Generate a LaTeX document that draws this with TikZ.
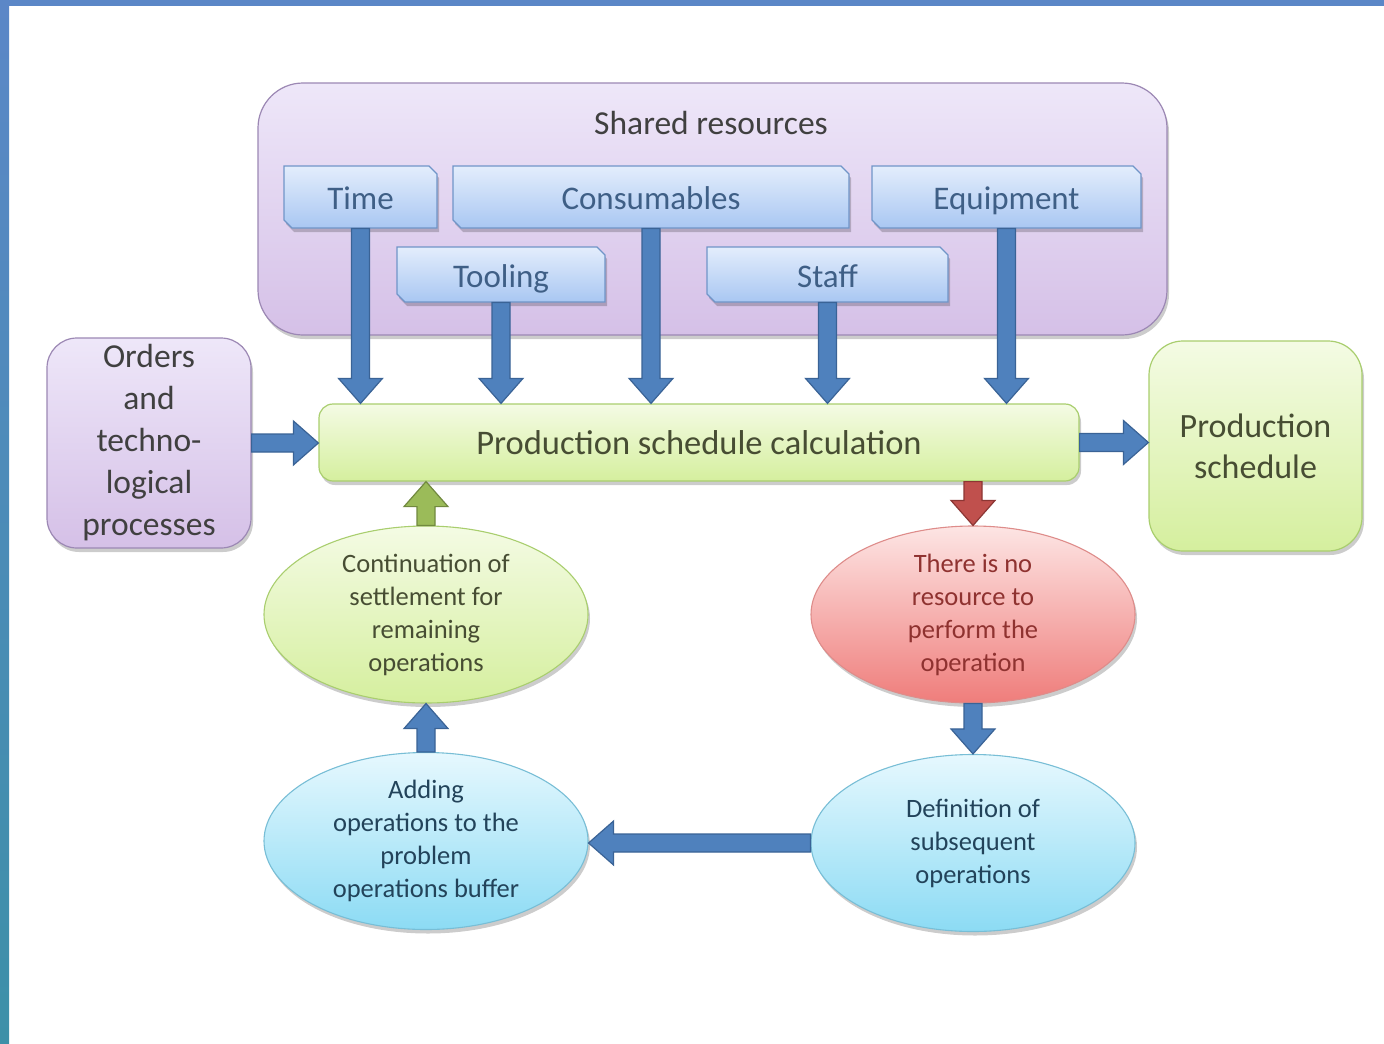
\documentclass[tikz,border=0pt]{standalone}
\usepackage{fontspec}
\setmainfont{Carlito}
\usetikzlibrary{shapes.geometric,shapes.misc,calc,shadows}

\definecolor{framebl}{HTML}{5B87C7}
\definecolor{frametl}{HTML}{3D90A8}
\definecolor{purtop}{HTML}{EEE7F9}
\definecolor{purbot}{HTML}{D5C0E7}
\definecolor{purline}{HTML}{9C88B4}
\definecolor{restop}{HTML}{E3EDFC}
\definecolor{resbot}{HTML}{A9C7F2}
\definecolor{resline}{HTML}{7095C8}
\definecolor{restext}{HTML}{3F5F86}
\definecolor{grntop}{HTML}{F4FBE4}
\definecolor{grnbot}{HTML}{D5EF9E}
\definecolor{grnline}{HTML}{A9CE6E}
\definecolor{grntext}{HTML}{474D33}
\definecolor{redtop}{HTML}{FDE5E4}
\definecolor{redbot}{HTML}{EF7D7B}
\definecolor{redline}{HTML}{DE8C8A}
\definecolor{redtext}{HTML}{8F3230}
\definecolor{cyntop}{HTML}{E6F8FE}
\definecolor{cynbot}{HTML}{8CDBF4}
\definecolor{cynline}{HTML}{78BED6}
\definecolor{cyntext}{HTML}{22435A}
\definecolor{darktext}{HTML}{404040}
\definecolor{arrbl}{HTML}{4F81BD}
\definecolor{arrblline}{HTML}{3A6396}
\definecolor{arrrd}{HTML}{C0504D}
\definecolor{arrrdline}{HTML}{8C3634}
\definecolor{arrgr}{HTML}{9BBB59}
\definecolor{arrgrline}{HTML}{71893F}

\tikzset{
  shade1/.style={drop shadow={opacity=0.2, shadow xshift=2pt, shadow yshift=-4pt, fill=black}},
  purplebox/.style={shade1, draw=purline, line width=1.2pt, top color=purtop, bottom color=purbot, rounded corners=#1, inner sep=0pt},
  resbox/.style={shade1, chamfered rectangle, chamfered rectangle corners={north east, south west},
     chamfered rectangle xsep=4pt, chamfered rectangle ysep=4pt, inner sep=0pt,
     text height=25pt, text depth=0pt,
     draw=resline, line width=1.1pt, top color=restop, bottom color=resbot, text=restext,
     font=\fontsize{33}{40}\selectfont},
  greenbox/.style={shade1, draw=grnline, line width=1.2pt, top color=grntop, bottom color=grnbot, rounded corners=#1, inner sep=0pt, text=grntext},
  oval/.style={shade1, ellipse, inner sep=0pt, minimum width=324pt, minimum height=177pt, align=center,
     line width=1.1pt, font=\fontsize{26.5}{33}\selectfont},
  greenoval/.style={oval, draw=grnline, top color=grntop, bottom color=grnbot, text=grntext},
  redoval/.style={oval, draw=redline, top color=redtop, bottom color=redbot, text=redtext},
  cyanoval/.style={oval, draw=cynline, top color=cyntop, bottom color=cynbot, text=cyntext},
  bluearrow/.style={fill=arrbl, draw=arrblline, line width=1.2pt, line join=miter},
  redarrow/.style={fill=arrrd, draw=arrrdline, line width=1.2pt, line join=miter},
  greenarrow/.style={fill=arrgr, draw=arrgrline, line width=1.2pt, line join=miter},
}

\newcommand\blockarrow[3][bluearrow]{%
  \filldraw[#1] let \p1=(#2), \p2=(#3), \p3=($(\p2)!25pt!(\p1)$) in
    ($(\p1)!9pt!90:(\p2)$) -- ($(\p3)!9pt!90:(\p2)$) -- ($(\p3)!22pt!90:(\p2)$) -- (\p2)
    -- ($(\p3)!22pt!-90:(\p2)$) -- ($(\p3)!9pt!-90:(\p2)$) -- ($(\p1)!9pt!-90:(\p2)$) -- cycle;%
}

\begin{document}
\begin{tikzpicture}[x=1pt, y=-1pt]
  \useasboundingbox (0,0) rectangle (1384,1044);
  \fill[white] (0,0) rectangle (1384,1044);
  \shade[top color=framebl, bottom color=frametl] (0,0) rectangle (9,1044);
  \fill[framebl] (0,0) rectangle (1384,6);

  % shared resources
  \node[purplebox=45pt, minimum width=909pt, minimum height=252pt] (shared) at (712.5,209) {};
  \node[text=darktext, font=\fontsize{33.5}{40}\selectfont] (sharedtitle) at (711,123) {Shared resources};

  \node[resbox, minimum width=153pt, minimum height=62pt] (time) at (360.5,197) {Time};
  \node[resbox, minimum width=396pt, minimum height=62pt] (cons) at (651,197) {Consumables};
  \node[resbox, minimum width=269pt, minimum height=62pt] (equip) at (1006.5,197) {Equipment};
  \node[resbox, minimum width=208pt, minimum height=55pt] (tool) at (501,274.5) {Tooling};
  \node[resbox, minimum width=241pt, minimum height=55pt] (staff) at (827.5,274.5) {Staff};

  % main row
  \node[greenbox=14pt, minimum width=760pt, minimum height=77pt, font=\fontsize{34.5}{40}\selectfont] (main) at (699,442.5) {Production schedule calculation};
  \node[purplebox=30pt, minimum width=204pt, minimum height=210pt, align=center, text=darktext,
        font=\fontsize{33.5}{42}\selectfont] (orders) at (149,443) {Orders\\and\\techno-\\logical\\processes};
  \node[greenbox=34pt, minimum width=213pt, minimum height=210pt, align=center,
        font=\fontsize{34}{41}\selectfont] (prod) at (1255.5,446) {Production\\schedule};

  % ellipses
  \node[greenoval] (cont) at (426,614.5) {Continuation of\\settlement for\\remaining\\operations};
  \node[redoval] (red) at (973,614.5) {There is no\\resource to\\perform the\\operation};
  \node[cyanoval] (add) at (426,841) {Adding\\operations to the\\problem\\operations buffer};
  \node[cyanoval] (def) at (973,843) {Definition of\\subsequent\\operations};

  % arrows
  \blockarrow{time.south}{time.south |- main.north}
  \blockarrow{tool.south}{tool.south |- main.north}
  \blockarrow{cons.south}{cons.south |- main.north}
  \blockarrow{staff.south}{staff.south |- main.north}
  \blockarrow{equip.south}{equip.south |- main.north}
  \blockarrow{orders.east}{orders.east -| main.west}
  \blockarrow{main.east}{main.east -| prod.west}
  \blockarrow[redarrow]{red.north |- main.south}{red.north}
  \blockarrow{red.south}{def.north}
  \blockarrow{def.west}{def.west -| add.east}
  \blockarrow{add.north}{cont.south}
  \blockarrow[greenarrow]{cont.north}{cont.north |- main.south}
\end{tikzpicture}
\end{document}
